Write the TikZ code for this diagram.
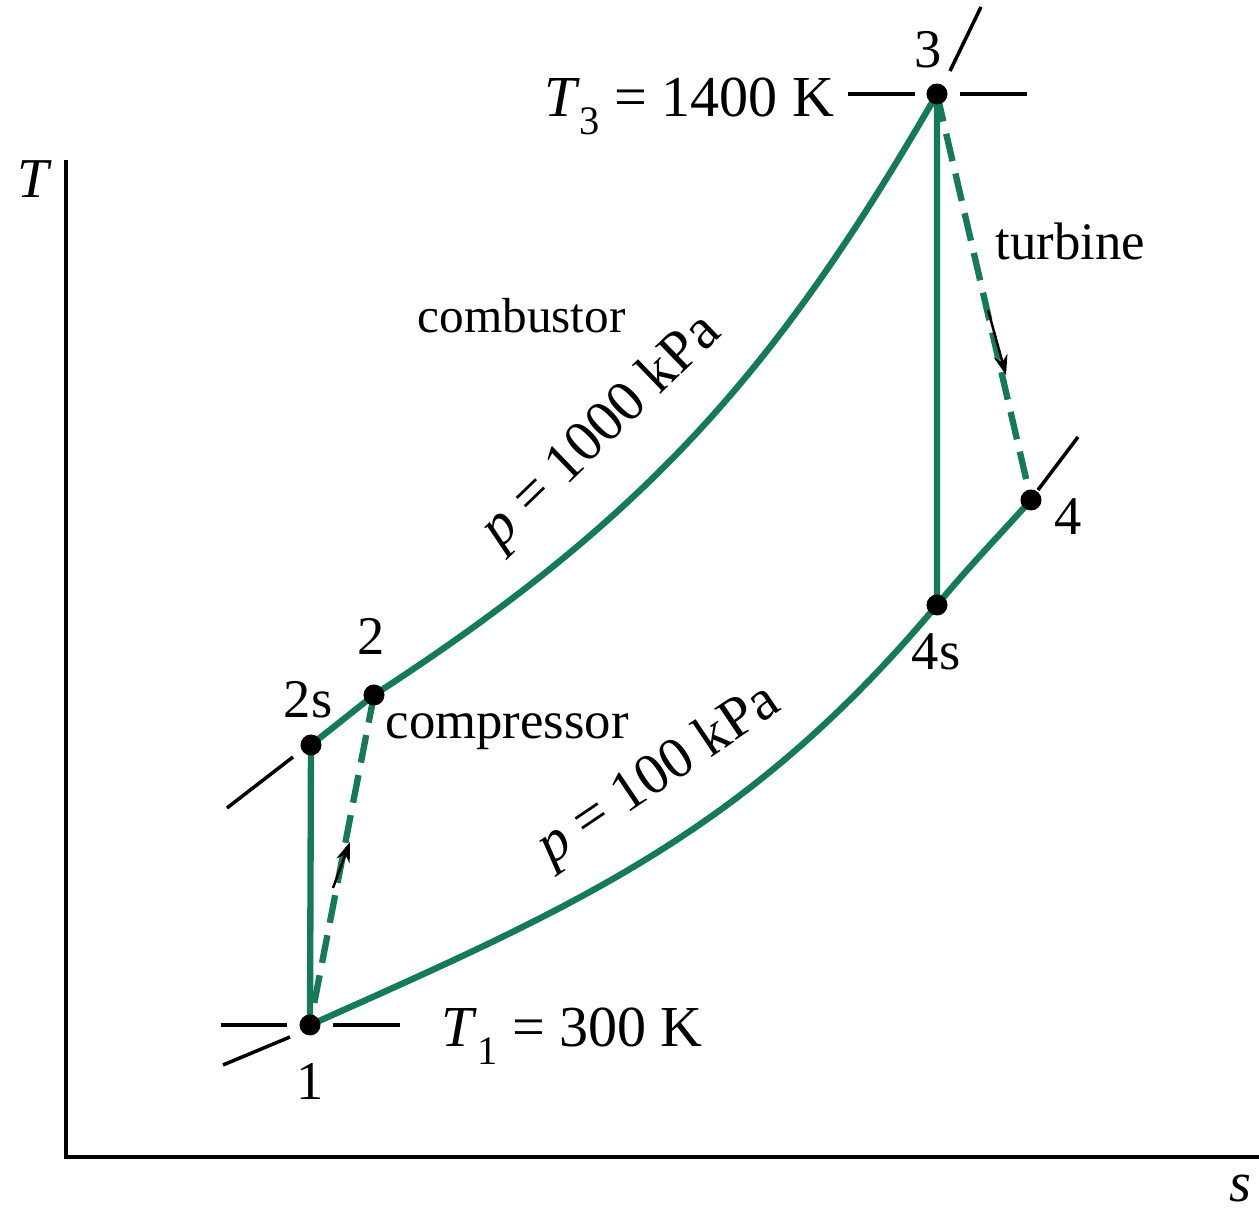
\documentclass[tikz,border=0pt]{standalone}
\usepackage{fontspec}
\setmainfont{Liberation Serif}
\usetikzlibrary{arrows.meta, positioning, calc}
\definecolor{cyclegreen}{RGB}{20,122,90}
\newcommand{\lowidx}[1]{\raisebox{-5pt}{\fontsize{11.5}{12}\selectfont #1}}

\begin{document}
\begin{tikzpicture}[
    x=0.01cm, y=0.01cm,
    proc/.style={draw=cyclegreen, line width=1.8pt, line join=round},
    irrev/.style={draw=cyclegreen, line width=1.8pt, dash pattern=on 8pt off 3.6pt},
    tickline/.style={draw, line width=1pt},
    axis/.style={draw, line width=0.9pt},
    state/.style={circle, fill=black, inner sep=0pt, minimum size=0.21cm},
    lbl/.style={font=\fontsize{15.5}{18}\selectfont, inner sep=0pt},
    word/.style={font=\fontsize{15}{18}\selectfont, inner sep=0pt},
    isobar/.style={font=\fontsize{16.5}{18}\selectfont, inner sep=0pt},
    flow/.style={-{Stealth[length=2mm, width=1.4mm]}, line width=0.7pt}
]
\useasboundingbox (0,-1210) rectangle (1259,0);

\coordinate (p1) at (310,-1025);
\coordinate (p2s) at (311,-745);
\coordinate (p2) at (374,-695);
\coordinate (p3) at (937,-94);
\coordinate (p4s) at (937,-605);
\coordinate (p4) at (1031,-500);

\coordinate (ytop) at (66,-160);
\coordinate (xend) at (1259,-1157);
\draw[axis] (ytop) |- (xend);
\node[lbl, font=\fontsize{16}{18}\selectfont\itshape, anchor=base] (tlabel) at (33,-198) {T};
\node[lbl, font=\fontsize{16}{18}\selectfont\itshape, anchor=base] (slabel) at (1240,-1202) {s};

\draw[tickline] ($(p1)+(-89,0)$) -- ($(p1)+(-23,0)$);
\draw[tickline] ($(p1)+(23,0)$) -- ($(p1)+(90,0)$);
\draw[tickline] ($(p1)+(-87,-40)$) -- ($(p1)+(-20,-12)$);
\draw[tickline] ($(p2s)+(-84,-63)$) -- ($(p2s)+(-18,-12)$);
\draw[tickline] ($(p3)+(-89,0)$) -- ($(p3)+(-22,0)$);
\draw[tickline] ($(p3)+(23,0)$) -- ($(p3)+(90,0)$);
\draw[tickline] ($(p3)+(13,23)$) -- ($(p3)+(44,87)$);
\draw[tickline] ($(p4)+(7,10)$) -- ($(p4)+(47,63)$);

\draw[proc] (p1) -- (p2s) -- (p2) to[out=33,in=240] (p3) -- (p4s);
\draw[proc] (p1) to[out=24,in=230] (p4s) to[out=50,in=228] (p4);
\draw[irrev] (p2) -- (p1);
\draw[irrev] (p3) -- (p4);

\coordinate (cin) at (333,-888);
\coordinate (cout) at (350,-842);
\draw[flow] (cin) -- (cout);
\coordinate (tin) at (988,-310);
\coordinate (tout) at (1006,-375);
\draw[flow] (tin) -- (tout);

\foreach \p in {p1,p2s,p2,p3,p4s,p4}
  \node[state] (\p-dot) at (\p) {};

\node[lbl, anchor=base] (n3) at (928,-68) {3};
\node[lbl, font=\fontsize{16.5}{18}\selectfont, anchor=base east] (t3) at (835,-117) {\textit{T}\lowidx{3} = 1400 K};
\node[word, anchor=base west] (turb) at (995,-260) {turbine};
\node[word, font=\fontsize{14}{18}\selectfont, anchor=base west] (comb) at (417,-333) {combustor};
\node[isobar, rotate=44] (phigh) at (602,-432) {\textit{p} = 1000 kPa};
\node[lbl, anchor=base] (n2) at (371,-655) {2};
\node[lbl, anchor=base] (n2s) at (308,-718) {2s};
\node[word, anchor=base west] (comp) at (385,-739) {compressor};
\node[isobar, rotate=34] (plow) at (659,-776) {\textit{p} = 100 kPa};
\node[lbl, anchor=base] (n4s) at (936,-670) {4s};
\node[lbl, anchor=base] (n4) at (1068,-535) {4};
\node[lbl, anchor=base] (n1) at (310,-1100) {1};
\node[lbl, font=\fontsize{16.5}{18}\selectfont, anchor=base west] (t1) at (441,-1047) {\textit{T}\lowidx{1} = 300 K};
\end{tikzpicture}
\end{document}
